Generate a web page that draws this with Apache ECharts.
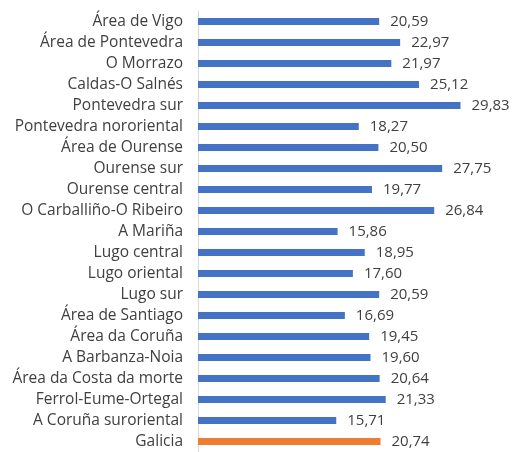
<!DOCTYPE html>
<html>
<head>
<meta charset="utf-8">
<style>
	html,body{ margin:0; padding:0; background:#fff;}
	#mainBox{ width:514px; height:452px;}
</style>
</head>
<body>
<div id="mainBox"></div>
<script src="https://cdn.jsdelivr.net/npm/echarts@6/dist/echarts.min.js"></script>
<script>
// categories top to bottom, as in the picture
var areaNames=['Área de Vigo','Área de Pontevedra','O Morrazo','Caldas-O Salnés','Pontevedra sur',
	'Pontevedra nororiental','Área de Ourense','Ourense sur','Ourense central','O Carballiño-O Ribeiro',
	'A Mariña','Lugo central','Lugo oriental','Lugo sur','Área de Santiago','Área da Coruña',
	'A Barbanza-Noia','Área da Costa da morte','Ferrol-Eume-Ortegal','A Coruña suroriental','Galicia'];
var areaValues=[20.59,22.97,21.97,25.12,29.83,18.27,20.50,27.75,19.77,26.84,
	15.86,18.95,17.60,20.59,16.69,19.45,19.60,20.64,21.33,15.71,20.74];
var totalName='Galicia';

var blue='#4472C4', orange='#ED7D31';
var fontName='"Open Sans", "Noto Sans", sans-serif';

var barData=[];
for(var i=0;i<areaValues.length;i++){
	barData.push({
		value:areaValues[i],
		itemStyle:{color:areaNames[i]==totalName?orange:blue}
	});
}

var myChart=echarts.init(document.getElementById('mainBox'));
myChart.setOption({
	animation:false,
	grid:{left:198,top:11,width:308,height:445},
	xAxis:{
		type:'value',min:0,max:35,
		show:false
	},
	yAxis:{
		type:'category',
		inverse:true,
		data:areaNames,
		axisLine:{show:true,lineStyle:{color:'#d9d9d9',width:1}},
		axisTick:{show:false},
		axisLabel:{color:'#404040',fontSize:15.5,fontFamily:fontName,margin:15}
	},
	series:[{
		type:'bar',
		data:barData,
		barWidth:7,
		label:{
			show:true,position:'right',distance:11,
			color:'#404040',fontSize:15,fontFamily:fontName,
			formatter:function(p){return p.value.toFixed(2).replace('.',',');}
		}
	}]
});
</script>
</body>
</html>
